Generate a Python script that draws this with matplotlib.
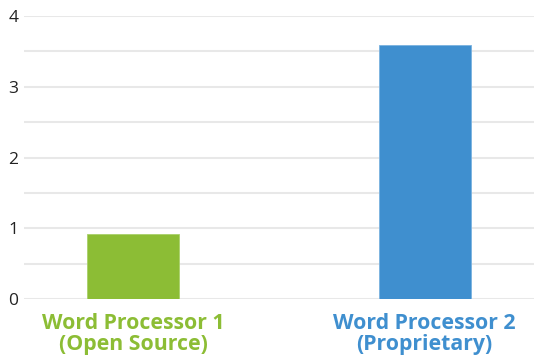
import matplotlib
matplotlib.use("Agg")
import matplotlib.pyplot as plt

categories = ["Word Processor 1\n(Open Source)", "Word Processor 2\n(Proprietary)"]
values = [0.92, 3.59]
colors = ["#8cbd35", "#3f8fcf"]
yticks = [0, 1, 2, 3, 4]
grid_levels = [0, 0.5, 1, 1.5, 2, 2.5, 3, 3.5, 4]

plt.rcParams['font.family'] = ['Open Sans', 'DejaVu Sans']

fig = plt.figure(figsize=(5.34, 3.57), dpi=100)
ax = fig.add_axes([24 / 534, 58 / 357, 510 / 534, 283 / 357])

for g in grid_levels:
    ax.axhline(g, color="#e8e8e8", linewidth=1.5, zorder=0)

x = list(range(len(categories)))
ax.bar(x, values, width=0.316, color=colors, edgecolor=["#a9d06a", "#7ab2e0"],
       linewidth=0.6, zorder=2)

ax.set_xlim(-0.376, 1.376)
ax.set_ylim(0, 4)
ax.set_yticks(yticks)
ax.set_yticklabels([str(t) for t in yticks], fontsize=12.5, color="#222222")
ax.tick_params(axis="y", length=0, pad=4)
ax.set_xticks(x)
ax.set_xticklabels(categories, fontsize=15.3, fontweight="bold", linespacing=0.98)
for lbl, c in zip(ax.get_xticklabels(), colors):
    lbl.set_color(c)
ax.tick_params(axis="x", length=0, pad=10)

for s in ax.spines.values():
    s.set_visible(False)

fig.savefig("out.png", dpi=100)
